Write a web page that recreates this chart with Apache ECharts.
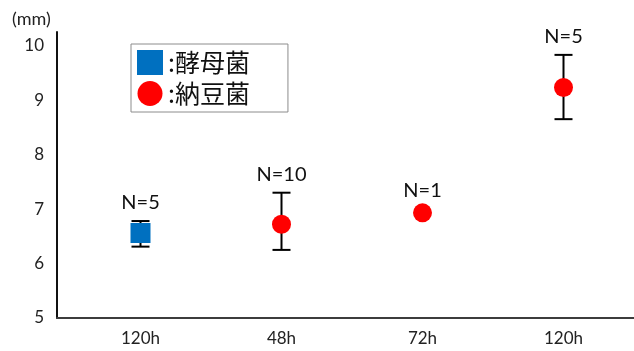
<!DOCTYPE html>
<html><head><meta charset="utf-8">
<script src="https://cdn.jsdelivr.net/npm/echarts@6/dist/echarts.min.js"></script>
<style>html,body{margin:0;padding:0;background:#fff}#c{width:634px;height:351px}</style>
</head><body><div id="c"></div>
<script>
// ---- data ----
const categories = ['120h', '48h', '72h', '120h'];
const seriesNames = ['酵母菌', '納豆菌'];
const yeastValues = [6.56, null, null, null];
const yeastLow    = [6.31, null, null, null];
const yeastHigh   = [6.78, null, null, null];
const yeastN      = ['N=5', '', '', ''];
const nattoValues = [null, 6.72, 6.93, 9.23];
const nattoLow    = [null, 6.25, null, 8.65];
const nattoHigh   = [null, 7.30, null, 9.83];
const nattoN      = ['', 'N=10', 'N=1', 'N=5'];
const yTicks = [5, 6, 7, 8, 9, 10];
const yUnit = '(mm)';

const numFont = 'Lato, "Liberation Sans", sans-serif';
const jpFont = '"Noto Sans CJK JP", sans-serif';

function pts(vals) {
  const out = [];
  vals.forEach((v, i) => { if (v != null) out.push([i, v]); });
  return out;
}
function errData(vals, lo, hi) {
  const out = [];
  vals.forEach((v, i) => { if (v != null) out.push([i, v, lo[i] == null ? v : lo[i], hi[i] == null ? v : hi[i]]); });
  return out;
}
const errDataLabels = {
  err0: yeastN.filter((n, i) => yeastValues[i] != null),
  err1: nattoN.filter((n, i) => nattoValues[i] != null)
};
function makeRender(markerR) {
  return function (params, api) {
    const x = api.value(0);
    const v = api.value(1), lo = api.value(2), hi = api.value(3);
    const label = errDataLabels[params.seriesName][params.dataIndex];
    const pv = api.coord([x, v]);
    const pl = api.coord([x, lo]);
    const ph = api.coord([x, hi]);
    const cap = 9;
    const children = [];
    const style = { stroke: '#000', lineWidth: 2 };
    if (hi > v || lo < v) {
      children.push({ type: 'line', shape: { x1: pv[0], y1: ph[1], x2: pv[0], y2: pl[1] }, style });
      children.push({ type: 'line', shape: { x1: pv[0] - cap, y1: ph[1], x2: pv[0] + cap, y2: ph[1] }, style });
      children.push({ type: 'line', shape: { x1: pv[0] - cap, y1: pl[1], x2: pv[0] + cap, y2: pl[1] }, style });
    }
    const topY = (hi > v) ? ph[1] - 8 : pv[1] - markerR - 3;
    children.push({ type: 'text', x: pv[0], y: topY,
      style: { text: label, align: 'center', verticalAlign: 'bottom', fill: '#111', font: '20px ' + numFont } });
    return { type: 'group', children };
  };
}

const chart = echarts.init(document.getElementById('c'), null, { renderer: 'canvas' });
chart.setOption({
  animation: false,
  backgroundColor: '#fff',
  title: { text: yUnit, left: 7, top: 5, textStyle: { fontSize: 18, fontWeight: 'normal', color: '#222', fontFamily: numFont } },
  legend: {
    left: 131, top: 44, orient: 'vertical',
    data: [{ name: seriesNames[0], icon: 'rect' }, { name: seriesNames[1], icon: 'circle' }],
    itemWidth: 26, itemHeight: 25, itemGap: 6, itemTextGap: 4,
    formatter: ':{name}',
    padding: [6, 38, 6, 6],
    borderColor: '#8c8c8c', borderWidth: 1, backgroundColor: '#fff',
    textStyle: { fontSize: 25, color: '#111', fontFamily: jpFont }
  },
  grid: [
    { left: 57, right: 0, top: 32, bottom: 33 },
    { left: 70, right: -22, top: 32, bottom: 33 }
  ],
  xAxis: [
    { gridIndex: 0, type: 'value', min: 0, max: 1,
      axisLine: { show: true, onZero: false, lineStyle: { color: '#3c3c3c', width: 2 } },
      axisTick: { show: false }, axisLabel: { show: false }, splitLine: { show: false } },
    { gridIndex: 1, type: 'category', data: categories, boundaryGap: true,
      axisLine: { show: false }, axisTick: { show: false }, splitLine: { show: false },
      axisLabel: { fontSize: 17, color: '#222', fontFamily: numFont, margin: 12, interval: 0 } }
  ],
  yAxis: [
    { gridIndex: 0, type: 'value', min: yTicks[0], max: 10.25, interval: 1,
      axisLine: { show: true, onZero: false, lineStyle: { color: '#111', width: 2 } },
      axisTick: { show: false }, splitLine: { show: false },
      axisLabel: { fontSize: 17, color: '#222', fontFamily: numFont, margin: 13, showMaxLabel: false } },
    { gridIndex: 1, type: 'value', min: yTicks[0], max: 10.25, show: false, splitLine: { show: false } }
  ],
  series: [
    { name: 'err0', type: 'custom', xAxisIndex: 1, yAxisIndex: 1, z: 2,
      renderItem: makeRender(10), data: errData(yeastValues, yeastLow, yeastHigh), silent: true },
    { name: 'err1', type: 'custom', xAxisIndex: 1, yAxisIndex: 1, z: 2,
      renderItem: makeRender(9.5), data: errData(nattoValues, nattoLow, nattoHigh), silent: true },
    { name: seriesNames[0], type: 'scatter', xAxisIndex: 1, yAxisIndex: 1, z: 5,
      symbol: 'rect', symbolSize: 20, itemStyle: { color: '#0070C0', opacity: 1 },
      data: pts(yeastValues) },
    { name: seriesNames[1], type: 'scatter', xAxisIndex: 1, yAxisIndex: 1, z: 5,
      symbol: 'circle', symbolSize: 19, itemStyle: { color: '#FF0000', opacity: 1 },
      data: pts(nattoValues) }
  ]
});
</script></body></html>
